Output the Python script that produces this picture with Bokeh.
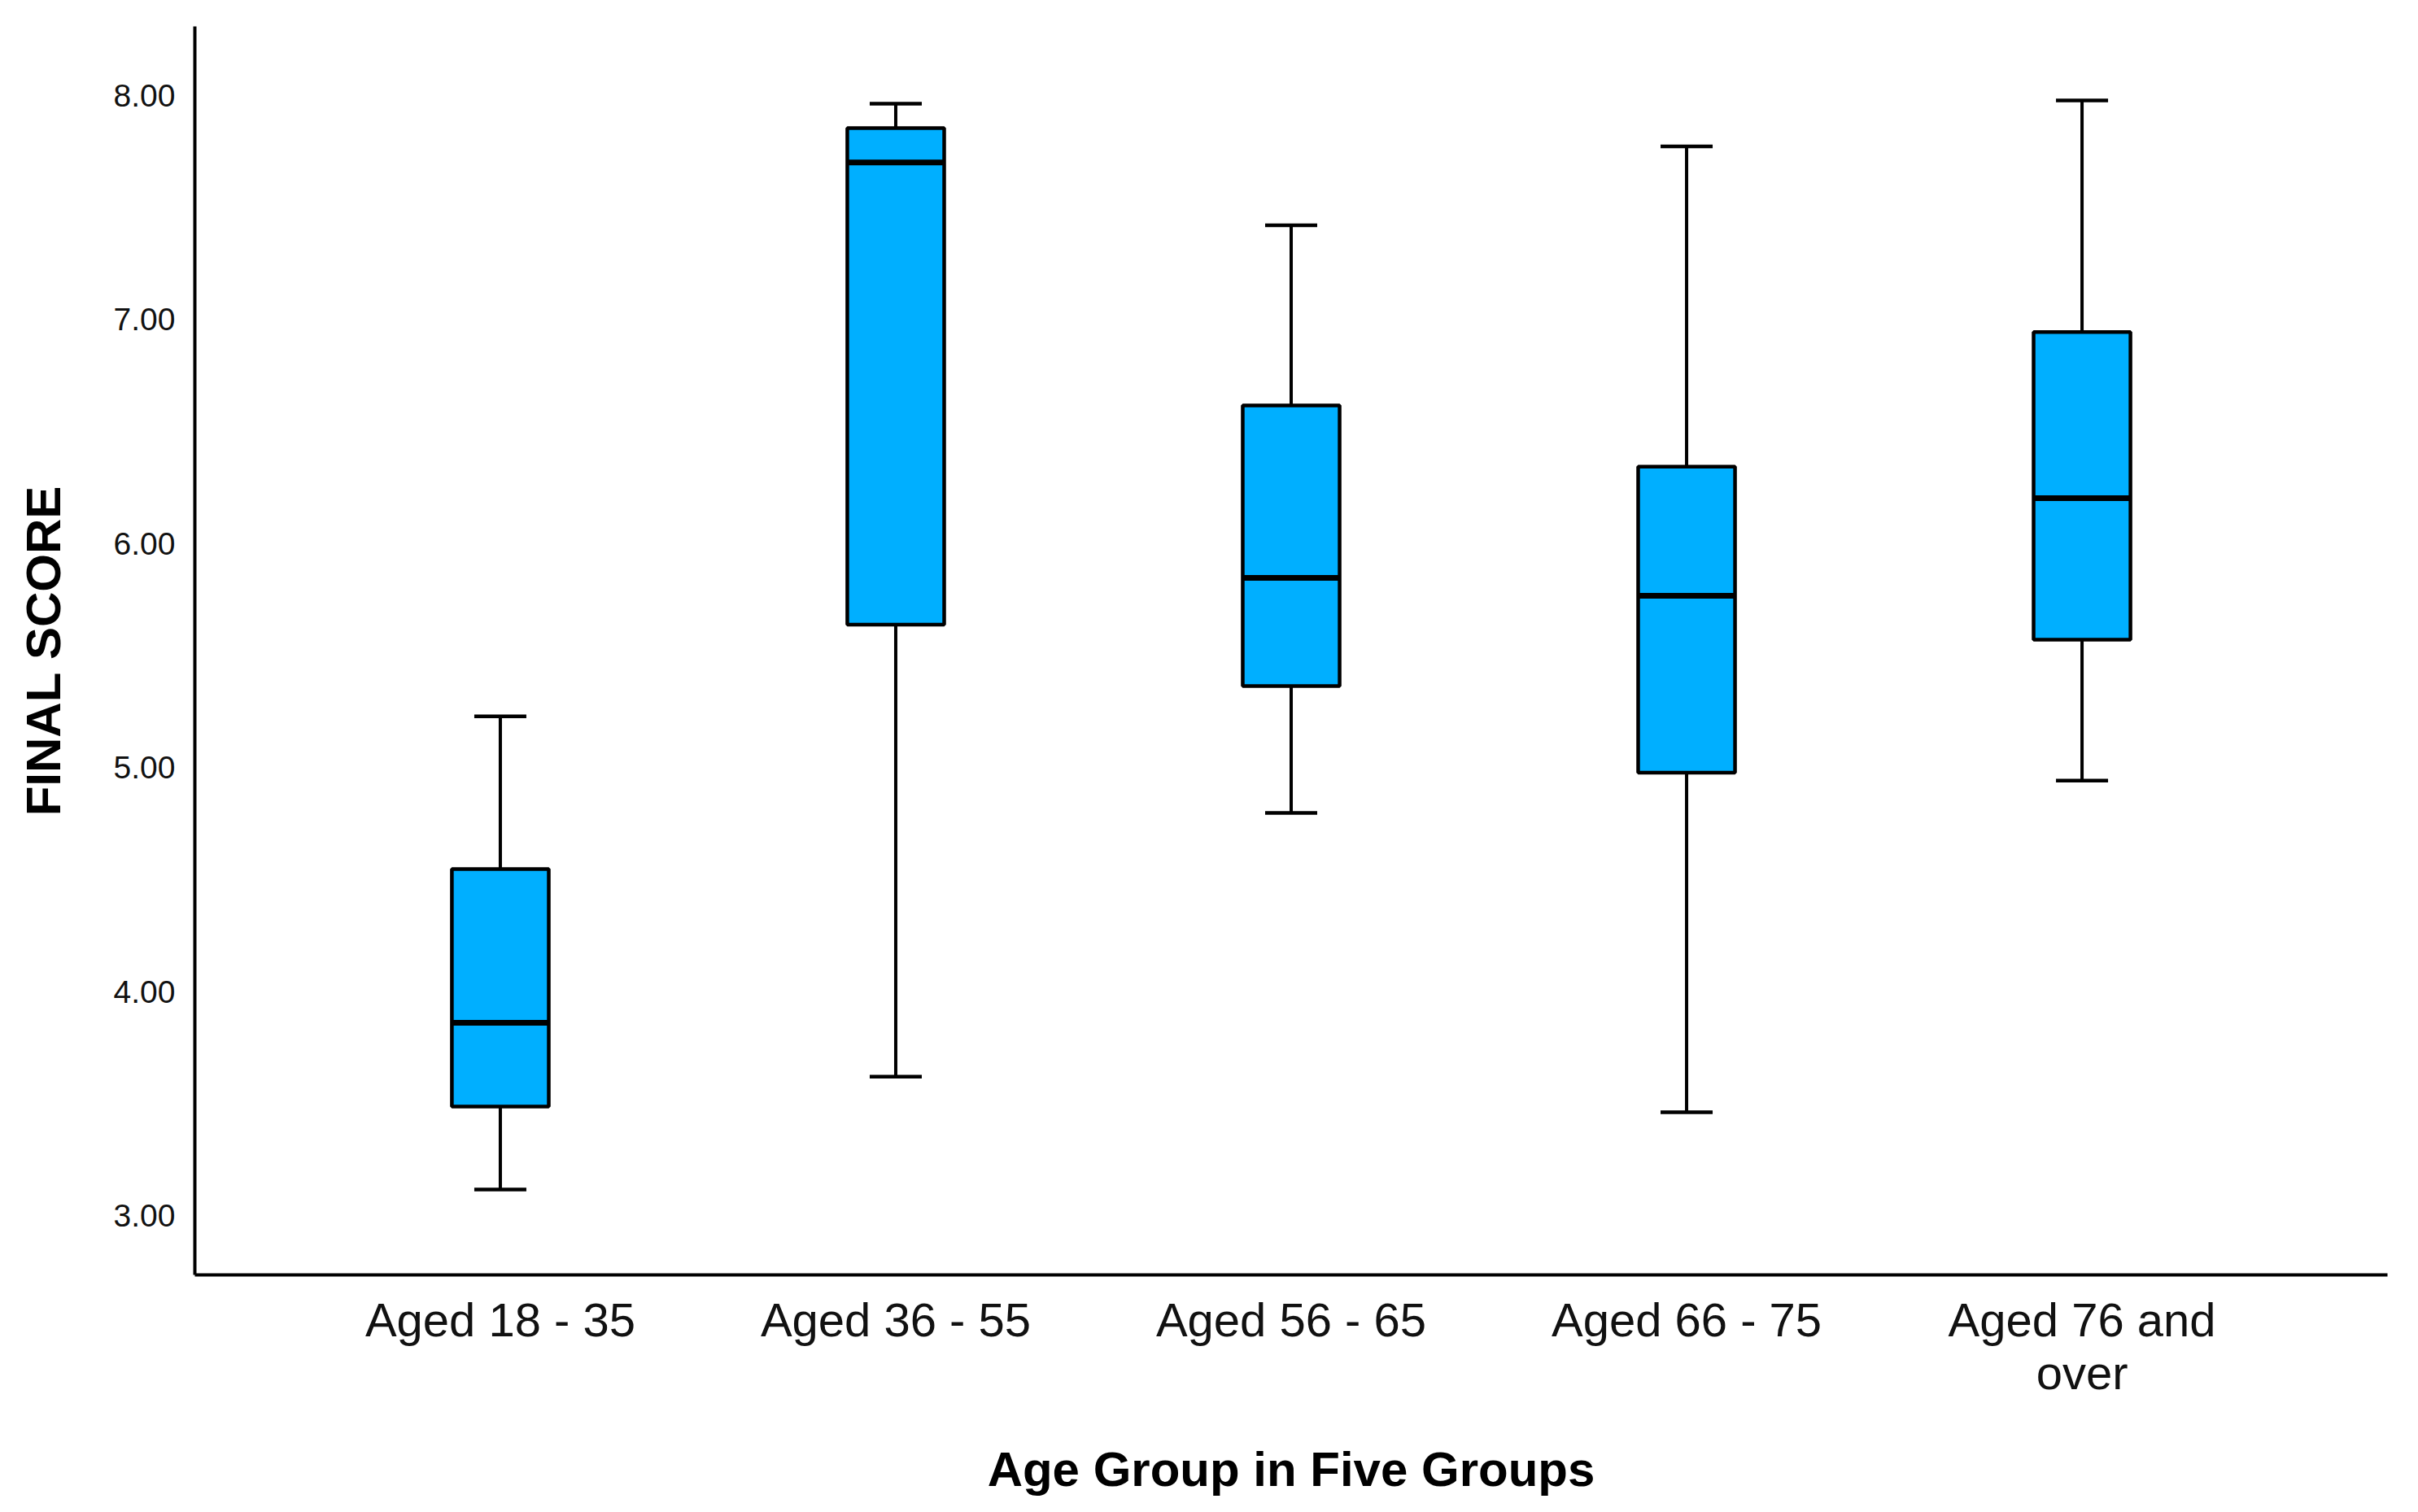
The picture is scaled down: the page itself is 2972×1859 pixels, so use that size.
from bokeh.plotting import figure
from bokeh.models import (FactorRange, Range1d, FixedTicker, NumeralTickFormatter,
                          Whisker, TeeHead, ColumnDataSource)
from bokeh.transform import dodge
from bokeh.embed import file_html
from bokeh.resources import INLINE

# ---- data ----
categories = ["Aged 18 - 35", "Aged 36 - 55", "Aged 56 - 65", "Aged 66 - 75", "Aged 76 and\nover"]
whisker_low = [3.116, 3.620, 4.798, 3.461, 4.942]
q1 = [3.487, 5.638, 5.364, 4.977, 5.571]
median = [3.861, 7.702, 5.847, 5.767, 6.203]
q3 = [4.547, 7.855, 6.617, 6.344, 6.945]
whisker_high = [5.229, 7.964, 7.421, 7.773, 7.979]
y_ticks = [3, 4, 5, 6, 7, 8]
x_title = "Age Group in Five Groups"
y_title = "FINAL SCORE"

src = ColumnDataSource(dict(cat=categories, low=whisker_low, q1=q1, med=median,
                            q3=q3, high=whisker_high))

FONT = "Liberation Sans"
BOX_W = 0.245

p = figure(
    x_range=FactorRange(factors=categories, range_padding=0.2725, range_padding_units="absolute"),
    y_range=Range1d(2.735, 8.309),
    width=2960, height=1851,
    output_backend="svg", toolbar_location=None,
    min_border_left=239, min_border_right=26, min_border_top=32, min_border_bottom=284,
)
p.outline_line_color = None
p.xgrid.visible = False
p.ygrid.visible = False
p.background_fill_color = "white"
p.border_fill_color = "white"

# whiskers
upper_w = Whisker(source=src, base="cat", lower="q3", upper="high",
                  line_width=4, line_color="black",
                  upper_head=TeeHead(size=64, line_width=4.5, line_color="black"),
                  lower_head=None, level="underlay")
lower_w = Whisker(source=src, base="cat", lower="low", upper="q1",
                  line_width=4, line_color="black",
                  lower_head=TeeHead(size=64, line_width=4.5, line_color="black"),
                  upper_head=None, level="underlay")
p.add_layout(upper_w)
p.add_layout(lower_w)

# boxes
p.vbar(x="cat", width=BOX_W, bottom="q1", top="q3", source=src,
       fill_color="#00AFFF", line_color="black", line_width=4.5)

# medians
p.segment(x0=dodge("cat", -BOX_W / 2, range=p.x_range), y0="med",
          x1=dodge("cat", BOX_W / 2, range=p.x_range), y1="med",
          source=src, line_color="black", line_width=7, line_cap="butt")

# axes
for ax in (p.xaxis[0], p.yaxis[0]):
    ax.axis_line_width = 4
    ax.axis_line_color = "black"
    ax.major_tick_line_color = None
    ax.minor_tick_line_color = None
    ax.major_tick_out = 0
    ax.major_tick_in = 0
    ax.minor_tick_out = 0
    ax.major_label_text_font = FONT
    ax.major_label_text_color = "#111111"
    ax.axis_label_text_font = FONT
    ax.axis_label_text_font_style = "bold"
    ax.axis_label_text_font_size = "60px"
    ax.axis_label_text_color = "black"

p.xaxis.axis_label = x_title
p.xaxis.major_label_text_font_size = "58px"
p.xaxis.major_label_text_line_height = 1.0
p.xaxis.major_label_standoff = 22
p.xaxis.axis_label_standoff = 50

p.yaxis.axis_label = y_title
p.yaxis.ticker = FixedTicker(ticks=y_ticks)
p.yaxis.formatter = NumeralTickFormatter(format="0.00")
p.yaxis.major_label_text_font_size = "39px"
p.yaxis.major_label_standoff = 24
p.yaxis.axis_label_standoff = 50

open("out.html", "w").write(file_html(p, INLINE))
